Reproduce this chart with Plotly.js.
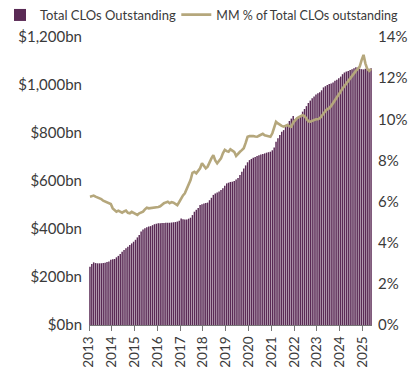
<!DOCTYPE html>
<html>
<head>
<meta charset="utf-8">
<script src="https://cdn.plot.ly/plotly-3.0.1.min.js"></script>
<style>html,body{margin:0;padding:0;background:#fff;}#chart{width:410px;height:375px;}</style>
</head>
<body>
<div id="chart"></div>
<script>
// Monthly observations, Jan 2013 – May 2025
const startYear = 2013;
const monthCount = 149;

// Total CLOs Outstanding ($bn)
const clo2013 = [243, 254, 261, 258, 257, 257, 257, 258, 259, 262, 265, 272];
const clo2014 = [274, 275, 282, 288, 296, 305, 312, 320, 326, 333, 340, 347];
const clo2015 = [355, 365, 375, 390, 398, 403, 407, 410, 412, 416, 420, 422];
const clo2016 = [424, 424, 425, 425, 426, 426, 426, 427, 428, 429, 431, 434];
const clo2017 = [444, 441, 440, 440, 443, 447, 458, 472, 480, 488, 500, 503];
const clo2018 = [506, 508, 510, 520, 530, 542, 548, 552, 556, 562, 570, 580];
const clo2019 = [590, 593, 596, 597, 600, 606, 612, 625, 639, 652, 665, 678];
const clo2020 = [687, 692, 697, 700, 704, 707, 710, 713, 715, 718, 720, 722];
const clo2021 = [728, 740, 764, 778, 792, 805, 812, 825, 838, 850, 860, 871];
const clo2022 = [858, 862, 868, 875, 889, 900, 912, 925, 935, 945, 952, 960];
const clo2023 = [966, 970, 978, 990, 995, 1000, 1004, 1006, 1010, 1018, 1022, 1028];
const clo2024 = [1035, 1045, 1052, 1056, 1058, 1062, 1066, 1070, 1074, 1072, 1068, 1066];
const clo2025 = [1065, 1068, 1072, 1066, 1070];

// MM % of Total CLOs outstanding
const mm2013 = [6.24, 6.25, 6.29, 6.24, 6.21, 6.16, 6.12, 6.04, 6.00, 5.99, 5.92, 5.88];
const mm2014 = [5.67, 5.60, 5.51, 5.56, 5.50, 5.46, 5.52, 5.56, 5.45, 5.43, 5.50, 5.46];
const mm2015 = [5.40, 5.35, 5.43, 5.46, 5.51, 5.62, 5.70, 5.67, 5.68, 5.72, 5.70, 5.72];
const mm2016 = [5.74, 5.77, 5.85, 5.92, 5.96, 5.99, 5.92, 5.97, 5.95, 5.90, 5.83, 5.98];
const mm2017 = [6.16, 6.30, 6.40, 6.60, 6.85, 7.05, 7.40, 7.45, 7.37, 7.50, 7.62, 7.86];
const mm2018 = [7.75, 7.62, 7.70, 7.94, 8.10, 8.26, 8.00, 7.86, 8.00, 8.10, 8.35, 8.51];
const mm2019 = [8.45, 8.42, 8.54, 8.48, 8.42, 8.22, 8.35, 8.42, 8.50, 8.59, 8.85, 9.15];
const mm2020 = [9.18, 9.20, 9.19, 9.16, 9.15, 9.20, 9.25, 9.29, 9.22, 9.19, 9.17, 9.15];
const mm2021 = [9.32, 9.60, 9.88, 9.80, 9.72, 9.68, 9.64, 9.70, 9.72, 9.66, 9.64, 9.84];
const mm2022 = [9.95, 10.05, 10.10, 10.15, 10.20, 10.16, 10.05, 9.90, 9.88, 9.92, 9.95, 10.00];
const mm2023 = [10.00, 10.05, 10.15, 10.29, 10.40, 10.50, 10.53, 10.65, 10.78, 10.90, 11.05, 11.18];
const mm2024 = [11.35, 11.50, 11.62, 11.75, 11.90, 12.00, 12.10, 12.24, 12.35, 12.45, 12.56, 12.88];
const mm2025 = [13.13, 12.72, 12.45, 12.35, 12.45];

const yearTicks = ['2013','2014','2015','2016','2017','2018','2019','2020','2021','2022','2023','2024','2025'];

const cloValues = [].concat(clo2013, clo2014, clo2015, clo2016, clo2017, clo2018, clo2019,
  clo2020, clo2021, clo2022, clo2023, clo2024, clo2025);
const mmValues = [].concat(mm2013, mm2014, mm2015, mm2016, mm2017, mm2018, mm2019,
  mm2020, mm2021, mm2022, mm2023, mm2024, mm2025);

const months = [];
for (let i = 0; i < monthCount; i++) {
  const y = startYear + Math.floor(i / 12);
  const m = (i % 12) + 1;
  months.push(y + '-' + (m < 10 ? '0' + m : m) + '-01');
}

const fontFam = 'Lato, "Open Sans", sans-serif';
const textCol = '#3a3a3a';

const traces = [
  {
    type: 'bar',
    name: 'Total CLOs Outstanding',
    x: months,
    y: cloValues,
    xperiod: 'M1',
    xperiodalignment: 'middle',
    marker: {color: '#5a2a55', line: {width: 0}},
    yaxis: 'y',
    legend: 'legend'
  },
  {
    type: 'scatter',
    mode: 'lines',
    name: 'MM % of Total CLOs outstanding',
    x: months,
    y: mmValues,
    xperiod: 'M1',
    xperiodalignment: 'middle',
    line: {color: '#b5a77c', width: 2.6},
    yaxis: 'y2',
    legend: 'legend2'
  }
];

const layout = {
  width: 410,
  height: 375,
  margin: {l: 89, r: 38, t: 37, b: 50, pad: 0},
  paper_bgcolor: '#fff',
  plot_bgcolor: '#fff',
  font: {family: fontFam, size: 15, color: textCol},
  bargap: 0.2,
  showlegend: true,
  legend: {
    orientation: 'h',
    xref: 'container', yref: 'container',
    x: 0, xanchor: 'left',
    y: 1, yanchor: 'top',
    font: {family: fontFam, size: 13, color: textCol},
    itemwidth: 30,
    bgcolor: 'rgba(0,0,0,0)'
  },
  legend2: {
    orientation: 'h',
    xref: 'container', yref: 'container',
    x: 0.43, xanchor: 'left',
    y: 1, yanchor: 'top',
    font: {family: fontFam, size: 12.5, color: textCol},
    itemwidth: 30,
    bgcolor: 'rgba(0,0,0,0)'
  },
  xaxis: {
    type: 'date',
    range: ['2013-01-01', '2025-06-01'],
    tickmode: 'array',
    tickvals: yearTicks.map(y => y + '-01-01'),
    ticktext: yearTicks,
    tickangle: -90,
    ticks: 'outside',
    ticklen: 5,
    tickcolor: '#777',
    showline: true,
    linecolor: '#777',
    linewidth: 1,
    showgrid: false,
    zeroline: false,
    tickfont: {family: fontFam, size: 13.5, color: textCol}
  },
  yaxis: {
    range: [0, 1200],
    tickvals: [0, 200, 400, 600, 800, 1000, 1200],
    ticktext: ['$0bn', '$200bn', '$400bn', '$600bn', '$800bn', '$1,000bn', '$1,200bn'],
    showgrid: false,
    zeroline: false,
    showline: false,
    ticks: '',
    ticklabelstandoff: 6,
    tickfont: {family: fontFam, size: 15, color: textCol}
  },
  yaxis2: {
    overlaying: 'y',
    side: 'right',
    range: [0, 14],
    tickvals: [0, 2, 4, 6, 8, 10, 12, 14],
    ticktext: ['0%', '2%', '4%', '6%', '8%', '10%', '12%', '14%'],
    showgrid: false,
    zeroline: false,
    showline: false,
    ticks: '',
    ticklabelstandoff: 5,
    tickfont: {family: fontFam, size: 15, color: textCol}
  }
};

Plotly.newPlot('chart', traces, layout, {displayModeBar: false, staticPlot: true});
</script>
</body>
</html>
